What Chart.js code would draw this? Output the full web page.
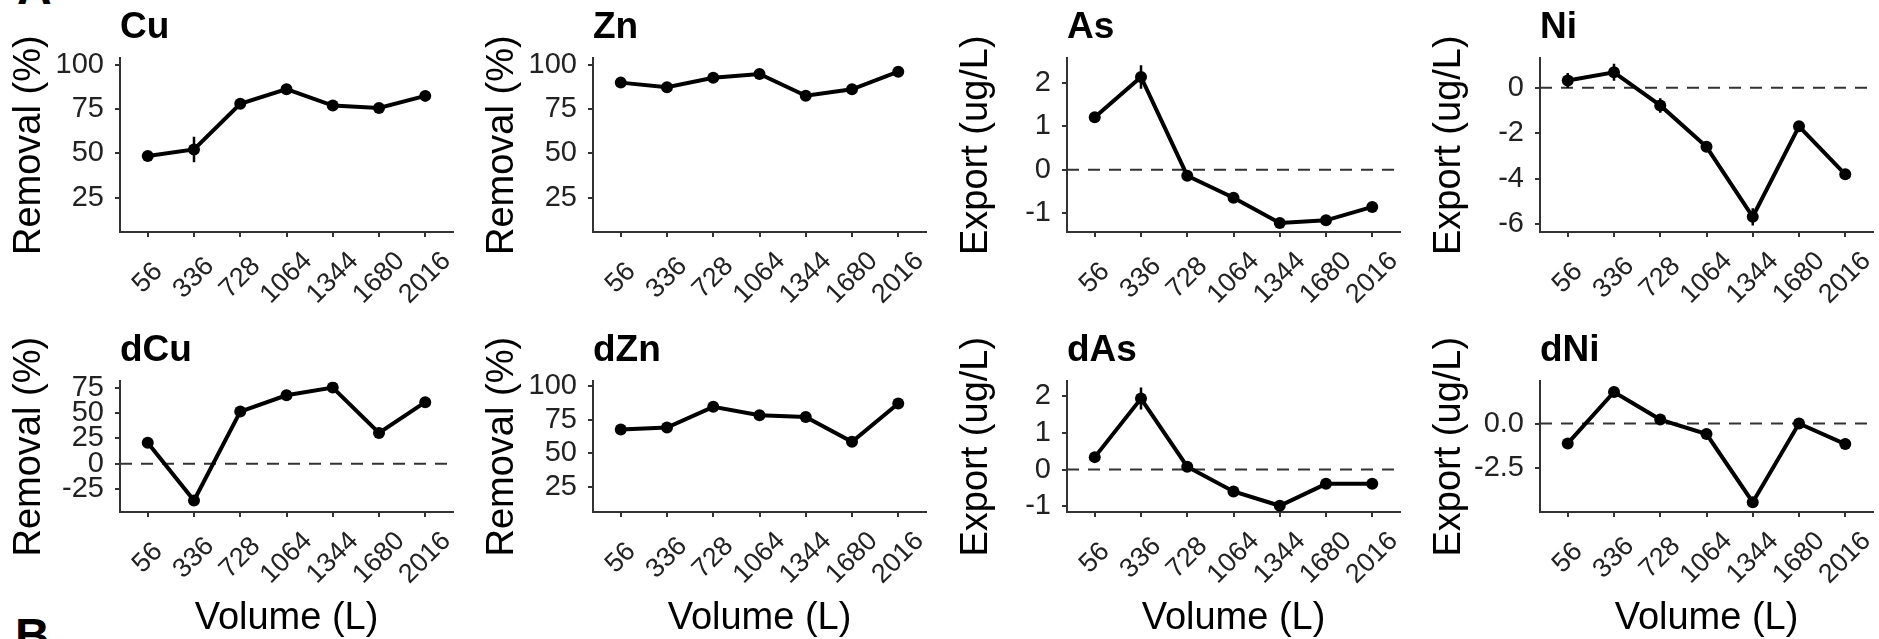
<!DOCTYPE html>
<html lang="en">
<head>
<meta charset="UTF-8">
<title>Removal and export by volume</title>
<script src="https://cdn.jsdelivr.net/npm/chart.js"></script>
<style>
    body {
        margin: 0;
        width: 1879px;
        height: 639px;
        overflow: hidden;
        background: #fff;
        position: relative;
        font-family: "Liberation Sans", Arial, Helvetica, sans-serif;
    }
    canvas { position: absolute; }
    .tag {
        position: absolute;
        font-weight: bold;
        font-size: 48px;
        line-height: 48px;
        color: #000;
    }
</style>
</head>
<body>
<div class="tag" style="left:17px; top:-36px;">A</div>
<div class="tag" style="left:15px; top:612px;">B</div>

<script>
    const volumes = ['56', '336', '728', '1064', '1344', '1680', '2016'];

    // total metals (top row)
    const cuValues = [48.5, 52.2, 78.0, 86.3, 77.0, 75.7, 82.5];
    const cuErr = [1.5, 7.2, 2.0, 1.5, 1.5, 1.5, 1.5];
    const znValues = [90.0, 87.4, 92.8, 94.9, 82.6, 86.2, 96.2];
    const znErr = [1.5, 2.5, 2.0, 1.5, 1.0, 1.5, 1.0];
    const asValues = [1.21, 2.14, -0.14, -0.65, -1.23, -1.17, -0.86];
    const asErr = [0.08, 0.27, 0.08, 0.07, 0.05, 0.05, 0.05];
    const niValues = [0.32, 0.68, -0.78, -2.6, -5.68, -1.7, -3.81];
    const niErr = [0.33, 0.37, 0.32, 0.22, 0.38, 0.12, 0.12];

    // dissolved metals (bottom row)
    const dcuValues = [20.7, -36.2, 51.6, 67.6, 75.2, 30.5, 60.8];
    const dcuErr = [3, 4, 5, 2, 2, 2, 2];
    const dznValues = [67.8, 69.3, 84.7, 78.5, 77.2, 58.6, 87.2];
    const dznErr = [2, 2, 3, 2, 2, 1.5, 1.5];
    const dasValues = [0.34, 1.94, 0.08, -0.6, -0.99, -0.39, -0.39];
    const dasErr = [0.12, 0.3, 0.05, 0.05, 0.05, 0.04, 0.04];
    const dniValues = [-1.11, 1.76, 0.22, -0.59, -4.39, 0.0, -1.15];
    const dniErr = [0.3, 0.3, 0.15, 0.1, 0.15, 0.1, 0.1];

    // axis limits and ticks
    const xRange = [-0.6, 6.6];
    const removalRange = [5.5, 103.7];
    const removalTicks = [25, 50, 75, 100];
    const asRange = [-1.44, 2.57];
    const exportTicks = [-1, 0, 1, 2];
    const niRange = [-6.35, 1.29];
    const niTicks = [-6, -4, -2, 0];
    const dcuRange = [-47.5, 81.3];
    const dcuTicks = [-25, 0, 25, 50, 75];
    const dznRange = [6.2, 103.7];
    const dasRange = [-1.16, 2.41];
    const dniRange = [-4.94, 2.35];
    const dniTicks = [-2.5, 0];
    const dniTickLabels = ['-2.5', '0.0'];

    // page layout
    const colLeft = [0, 473, 947, 1420];
    const rowTop = [0, 310];
    const rowHeight = [310, 329];
    const panelWidth = 459;
    const family = '"Liberation Sans", Arial, Helvetica, sans-serif';

    const panels = [
        { title: 'Cu', yLabel: 'Removal (%)', values: cuValues, err: cuErr, range: removalRange, ticks: removalTicks, col: 0, row: 0 },
        { title: 'Zn', yLabel: 'Removal (%)', values: znValues, err: znErr, range: removalRange, ticks: removalTicks, col: 1, row: 0 },
        { title: 'As', yLabel: 'Export (ug/L)', values: asValues, err: asErr, range: asRange, ticks: exportTicks, zero: true, col: 2, row: 0 },
        { title: 'Ni', yLabel: 'Export (ug/L)', values: niValues, err: niErr, range: niRange, ticks: niTicks, zero: true, col: 3, row: 0 },
        { title: 'dCu', yLabel: 'Removal (%)', values: dcuValues, err: dcuErr, range: dcuRange, ticks: dcuTicks, zero: true, col: 0, row: 1 },
        { title: 'dZn', yLabel: 'Removal (%)', values: dznValues, err: dznErr, range: dznRange, ticks: removalTicks, col: 1, row: 1 },
        { title: 'dAs', yLabel: 'Export (ug/L)', values: dasValues, err: dasErr, range: dasRange, ticks: exportTicks, zero: true, col: 2, row: 1 },
        { title: 'dNi', yLabel: 'Export (ug/L)', values: dniValues, err: dniErr, range: dniRange, ticks: dniTicks, tickLabels: dniTickLabels, zero: true, col: 3, row: 1 }
    ];

    // rotated y title, drawn by hand so chart.js doesn't squeeze it into the short bottom-row axis
    const yTitlePlugin = {
        id: 'yTitle',
        afterDraw(chart, args, opts) {
            const { ctx, chartArea } = chart;
            ctx.save();
            ctx.font = opts.size + 'px ' + family;
            ctx.fillStyle = '#000';
            ctx.translate(chartArea.left - opts.gap, (chartArea.top + chartArea.bottom) / 2);
            ctx.rotate(-Math.PI / 2);
            ctx.textAlign = 'center';
            ctx.textBaseline = 'alphabetic';
            ctx.fillText(opts.text, 0, 0);
            ctx.restore();
        }
    };

    // 45 degree x labels centred under their tick (chart.js always right-aligns rotated labels)
    const xLabelPlugin = {
        id: 'xLabels',
        afterDraw(chart, args, opts) {
            const { ctx } = chart;
            const scale = chart.scales.x;
            ctx.save();
            ctx.font = opts.size + 'px ' + family;
            ctx.fillStyle = '#222';
            ctx.textAlign = 'center';
            ctx.textBaseline = 'middle';
            scale.ticks.forEach(t => {
                ctx.save();
                ctx.translate(scale.getPixelForValue(t.value), scale.top + opts.drop);
                ctx.rotate(-Math.PI / 4);
                ctx.fillText(volumes[t.value], 0, 0);
                ctx.restore();
            });
            ctx.restore();
        }
    };

    function makeChart(p) {
        const bottomRow = p.row === 1;
        const h = rowHeight[p.row];
        const canvas = document.createElement('canvas');
        canvas.width = panelWidth;
        canvas.height = h;
        canvas.style.left = colLeft[p.col] + 'px';
        canvas.style.top = rowTop[p.row] + 'px';
        canvas.style.width = panelWidth + 'px';
        canvas.style.height = h + 'px';
        document.body.appendChild(canvas);

        const datasets = [{
            data: p.values.map((v, i) => ({ x: i, y: v })),
            borderColor: '#000',
            backgroundColor: '#000',
            borderWidth: 4,
            pointRadius: 6,
            pointBorderWidth: 0,
            pointBackgroundColor: '#000',
            order: 0
        }];
        // error bars as tiny vertical line datasets
        p.err.forEach((e, i) => {
            datasets.push({
                data: [{ x: i, y: p.values[i] - e }, { x: i, y: p.values[i] + e }],
                borderColor: '#000',
                borderWidth: 2.5,
                pointRadius: 0,
                order: 1
            });
        });
        if (p.zero) {
            datasets.push({
                data: [{ x: xRange[0], y: 0 }, { x: xRange[1], y: 0 }],
                borderColor: '#333',
                borderWidth: 2,
                borderDash: [12, 9],
                pointRadius: 0,
                order: 2
            });
        }

        new Chart(canvas, {
            type: 'line',
            data: { datasets: datasets },
            plugins: [yTitlePlugin, xLabelPlugin],
            options: {
                responsive: false,
                animation: false,
                events: [],
                layout: { padding: { top: bottomRow ? 19 : 6, right: 2.5, bottom: 0, left: 0 } },
                plugins: {
                    legend: { display: false },
                    tooltip: { enabled: false },
                    title: {
                        display: true,
                        text: p.title,
                        align: 'start',
                        fullSize: false,
                        color: '#000',
                        font: { family: family, size: 37, weight: 'bold', lineHeight: 1.2 },
                        padding: { top: 0, bottom: 8 }
                    },
                    yTitle: { text: p.yLabel, gap: 80, size: 38 },
                    xLabels: { size: 27, drop: 46 }
                },
                scales: {
                    x: {
                        type: 'linear',
                        min: xRange[0],
                        max: xRange[1],
                        bounds: 'data',
                        afterBuildTicks: s => { s.ticks = volumes.map((v, i) => ({ value: i })); },
                        afterFit: s => {
                            s.height = bottomRow ? 127 : 78;
                            s.paddingLeft = 0;
                            s.paddingRight = 0;
                        },
                        ticks: { display: false },
                        grid: { drawOnChartArea: false, tickLength: 5, color: '#333', lineWidth: 2 },
                        border: { color: '#333', width: 2 },
                        title: {
                            display: bottomRow,
                            text: 'Volume (L)',
                            color: '#000',
                            font: { family: family, size: 38, lineHeight: 1.1 },
                            padding: { top: 0, bottom: 0 }
                        }
                    },
                    y: {
                        type: 'linear',
                        min: p.range[0],
                        max: p.range[1],
                        afterBuildTicks: s => { s.ticks = p.ticks.map(v => ({ value: v })); },
                        afterFit: s => {
                            s.width = 120;
                            s.paddingTop = 0;
                            s.paddingBottom = 0;
                        },
                        ticks: {
                            autoSkip: false,
                            padding: 11,
                            color: '#222',
                            font: { family: family, size: 29 },
                            callback: v => p.tickLabels ? p.tickLabels[p.ticks.indexOf(v)] : String(v)
                        },
                        grid: { drawOnChartArea: false, tickLength: 5, color: '#333', lineWidth: 2 },
                        border: { color: '#333', width: 2 }
                    }
                }
            }
        });
    }

    panels.forEach(makeChart);
</script>
</body>
</html>
